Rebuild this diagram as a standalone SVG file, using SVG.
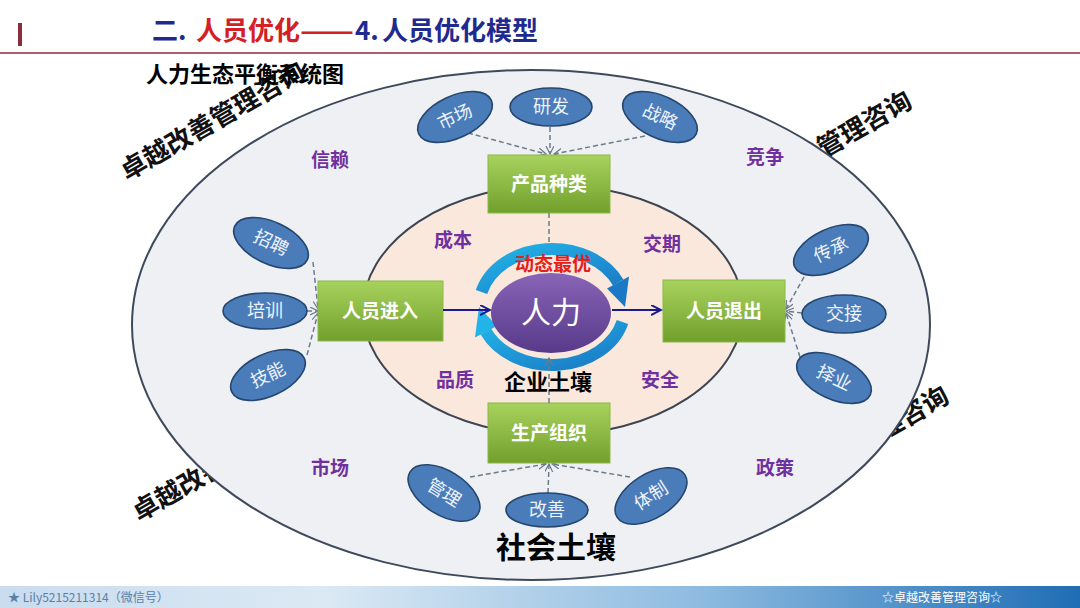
<svg xmlns="http://www.w3.org/2000/svg" width="1080" height="608" viewBox="0 0 1080 608">
<defs>
<style>
.cjk{font-family:"Noto Sans CJK SC","Noto Sans",sans-serif}
.wm{font-family:"Noto Sans CJK SC",sans-serif;font-size:26px;font-weight:bold;fill:#111}
.lab{font-family:"Noto Sans CJK SC",sans-serif;font-size:19px;font-weight:bold;fill:#7030a0;text-anchor:middle}
.sat{fill:#4a7cba;stroke:#24466f;stroke-width:1.6}
.satt{font-family:"Noto Sans CJK SC",sans-serif;font-size:18px;fill:#eef3fa;text-anchor:middle}
.box{fill:url(#gGreen);stroke:#8ab845;stroke-width:1}
.boxt{font-family:"Noto Sans CJK SC",sans-serif;font-size:19px;font-weight:bold;fill:#fff;text-anchor:middle}
.dash{stroke:#6b7b8c;stroke-width:1.5;stroke-dasharray:5 3;fill:none;marker-end:url(#mGrey)}
.blue{stroke:#1a1a8e;stroke-width:2;fill:none;marker-end:url(#mBlue)}
.ring{fill:none;stroke:url(#gRing);stroke-width:12}
.ttl{font-family:"Noto Sans CJK SC",sans-serif;font-size:26px;font-weight:bold}
</style>
<linearGradient id="gGreen" x1="0" y1="0" x2="0" y2="1">
<stop offset="0" stop-color="#a8d25e"/>
<stop offset="1" stop-color="#72a02c"/>
</linearGradient>
<linearGradient id="gPurple" x1="0" y1="0" x2="0" y2="1">
<stop offset="0" stop-color="#8864b6"/>
<stop offset="1" stop-color="#583a8a"/>
</linearGradient>
<linearGradient id="gRing" x1="0" y1="0" x2="1" y2="1">
<stop offset="0" stop-color="#22b4e8"/>
<stop offset="1" stop-color="#1a78c4"/>
</linearGradient>
<linearGradient id="gFoot" x1="0" y1="0" x2="1" y2="0">
<stop offset="0" stop-color="#c9dcee"/>
<stop offset="0.3" stop-color="#dbe9f4"/>
<stop offset="0.65" stop-color="#8dbbe0"/>
<stop offset="1" stop-color="#1f6db5"/>
</linearGradient>
<marker id="mGrey" markerWidth="9" markerHeight="9" refX="8" refY="4" orient="auto" markerUnits="userSpaceOnUse">
<path d="M0,0 L8,4 L0,8" fill="none" stroke="#6b7b8c" stroke-width="1.2"/>
</marker>
<marker id="mBlue" markerWidth="12" markerHeight="12" refX="10" refY="5" orient="auto" markerUnits="userSpaceOnUse">
<path d="M0,0 L10,5 L0,10" fill="none" stroke="#1a1a8e" stroke-width="2"/>
</marker>
</defs>

<rect x="0" y="0" width="1080" height="608" fill="#ffffff"/>

<!-- header -->
<rect x="18" y="23" width="4" height="23" fill="#8c2d3c"/>
<line x1="0" y1="53" x2="1080" y2="53" stroke="#8c2d3c" stroke-width="1.5"/>
<text class="ttl" y="40"><tspan x="152" fill="#1f2a8f">二.</tspan><tspan x="196" fill="#d42024">人员优化</tspan><tspan x="300" fill="#d42024" textLength="54" lengthAdjust="spacingAndGlyphs">——</tspan><tspan x="355" fill="#1f2a8f">4.</tspan><tspan x="382" fill="#1f2a8f">人员优化模型</tspan></text>

<!-- watermarks (partly hidden by the outer ellipse) -->
<text class="wm" x="127" y="181" transform="rotate(-30 127 181)">卓越改善管理咨询</text>
<text class="wm" x="734" y="210" transform="rotate(-30 734 210)">卓越改善管理咨询</text>
<text class="wm" x="771" y="505" transform="rotate(-30 771 505)">卓越改善管理咨询</text>
<text class="wm" x="139" y="522" transform="rotate(-30 139 522)">卓越改善管理咨询</text>

<text x="146" y="82" class="cjk" font-size="22" font-weight="bold" fill="#000">人力生态平衡系统图</text>

<!-- soils -->
<g id="society">
<ellipse cx="531" cy="325" rx="399" ry="255" fill="#eff0f3" stroke="#3e4a5c" stroke-width="2"/>
</g>
<g id="enterprise">
<ellipse cx="553" cy="310" rx="190" ry="125" fill="#fbe8dc" stroke="#3d4452" stroke-width="2"/>
</g>

<g id="labels">
<text class="lab" x="330" y="167">信赖</text>
<text class="lab" x="765" y="164">竞争</text>
<text class="lab" x="330" y="475">市场</text>
<text class="lab" x="775" y="475">政策</text>
<text class="lab" x="453" y="247">成本</text>
<text class="lab" x="662" y="251">交期</text>
<text class="lab" x="455" y="387">品质</text>
<text class="lab" x="660" y="387">安全</text>
</g>

<!-- grey dashed connectors -->
<g id="connectors">
<path class="dash" d="M468,133 L546,154"/>
<path class="dash" d="M550,127 L550,154"/>
<path class="dash" d="M645,136 L554,154"/>
<path class="dash" d="M313,262 L318,309"/>
<path class="dash" d="M307,311 L318,311"/>
<path class="dash" d="M307,355 L318,313"/>
<path class="dash" d="M808,270 L786,309"/>
<path class="dash" d="M802,313 L786,311"/>
<path class="dash" d="M800,357 L786,313"/>
<path class="dash" d="M470,477 L546,464"/>
<path class="dash" d="M548,493 L549,464"/>
<path class="dash" d="M630,477 L552,464"/>
<line x1="549" y1="213" x2="549" y2="243" stroke="#6b7b8c" stroke-width="1.5" stroke-dasharray="5 3"/>
</g>

<!-- satellites -->
<g id="n-shichang1"><ellipse class="sat" cx="455" cy="117" rx="40" ry="21" transform="rotate(-25 455 117)"/><text class="satt" x="455" y="123" transform="rotate(-25 455 117)">市场</text></g>
<g id="n-yanfa"><ellipse class="sat" cx="551" cy="107" rx="41" ry="19"/><text class="satt" x="551" y="113">研发</text></g>
<g id="n-zhanlue"><ellipse class="sat" cx="660" cy="117" rx="40" ry="21" transform="rotate(25 660 117)"/><text class="satt" x="660" y="123" transform="rotate(25 660 117)">战略</text></g>
<g id="n-zhaopin"><ellipse class="sat" cx="271" cy="243" rx="40" ry="21" transform="rotate(25 271 243)"/><text class="satt" x="271" y="249" transform="rotate(25 271 243)">招聘</text></g>
<g id="n-peixun"><ellipse class="sat" cx="265" cy="311" rx="42" ry="18"/><text class="satt" x="265" y="317">培训</text></g>
<g id="n-jineng"><ellipse class="sat" cx="268" cy="375" rx="40" ry="21" transform="rotate(-25 268 375)"/><text class="satt" x="268" y="381" transform="rotate(-25 268 375)">技能</text></g>
<g id="n-chuancheng"><ellipse class="sat" cx="831" cy="250" rx="40" ry="21" transform="rotate(-25 831 250)"/><text class="satt" x="831" y="256" transform="rotate(-25 831 250)">传承</text></g>
<g id="n-jiaojie"><ellipse class="sat" cx="844" cy="314" rx="42" ry="19"/><text class="satt" x="844" y="320">交接</text></g>
<g id="n-zeye"><ellipse class="sat" cx="834" cy="378" rx="40" ry="21" transform="rotate(25 834 378)"/><text class="satt" x="834" y="384" transform="rotate(25 834 378)">择业</text></g>
<g id="n-guanli"><ellipse class="sat" cx="444" cy="493" rx="40" ry="22" transform="rotate(32 444 493)"/><text class="satt" x="444" y="499" transform="rotate(32 444 493)">管理</text></g>
<g id="n-gaishan"><ellipse class="sat" cx="547" cy="510" rx="41" ry="17"/><text class="satt" x="547" y="516">改善</text></g>
<g id="n-tizhi"><ellipse class="sat" cx="651" cy="496" rx="40" ry="22" transform="rotate(-32 651 496)"/><text class="satt" x="651" y="502" transform="rotate(-32 651 496)">体制</text></g>

<!-- green boxes -->
<g id="n-chanpin"><rect class="box" x="488" y="155" width="122" height="58"/><text class="boxt" x="549" y="191">产品种类</text></g>
<g id="n-jinru"><rect class="box" x="318" y="281" width="125" height="60"/><text class="boxt" x="380" y="318">人员进入</text></g>
<g id="n-tuichu"><rect class="box" x="663" y="280" width="122" height="62"/><text class="boxt" x="724" y="318">人员退出</text></g>
<g id="n-shengchan"><rect class="box" x="488" y="403" width="122" height="60"/><text class="boxt" x="549" y="440">生产组织</text></g>

<!-- center: ring arrows and human resource -->
<g id="n-renli">
<path class="ring" d="M481.5,292 A73,58 0 0 1 618.2,282.5"/>
<polygon points="629,276.5 607,288.5 625,307" fill="#1a78c4"/>
<path class="ring" d="M622.5,322 A73,58 0 0 1 485.8,331.5"/>
<polygon points="475,337.5 497,326 479,307" fill="#22b4e8"/>
<ellipse cx="551" cy="313" rx="60" ry="40" fill="url(#gPurple)"/>
<text x="551" y="323" class="cjk" font-size="30" fill="#fff" text-anchor="middle">人力</text>
<text x="553" y="271" class="cjk" font-size="19" font-weight="bold" fill="#e3201c" text-anchor="middle">动态最优</text>
</g>

<g id="flow">
<path class="blue" d="M443,310 L490,310"/>
<path class="blue" d="M612,310 L661,310"/>
<line x1="549" y1="403" x2="549" y2="358" stroke="#6b7b8c" stroke-width="1.5" stroke-dasharray="5 3" marker-end="url(#mGrey)"/>
</g>

<text x="548" y="390" class="cjk" font-size="22" font-weight="bold" fill="#000" text-anchor="middle">企业土壤</text>
<text x="556" y="558" class="cjk" font-size="30" font-weight="bold" fill="#000" text-anchor="middle">社会土壤</text>

<!-- footer -->
<rect x="0" y="586" width="1080" height="22" fill="url(#gFoot)"/>
<text x="8" y="602" class="cjk" font-size="12" fill="#5a7fa8">★ Lily5215211314（微信号）</text>
<text x="882" y="602" class="cjk" font-size="12" fill="#ffffff">☆卓越改善管理咨询☆</text>
</svg>
